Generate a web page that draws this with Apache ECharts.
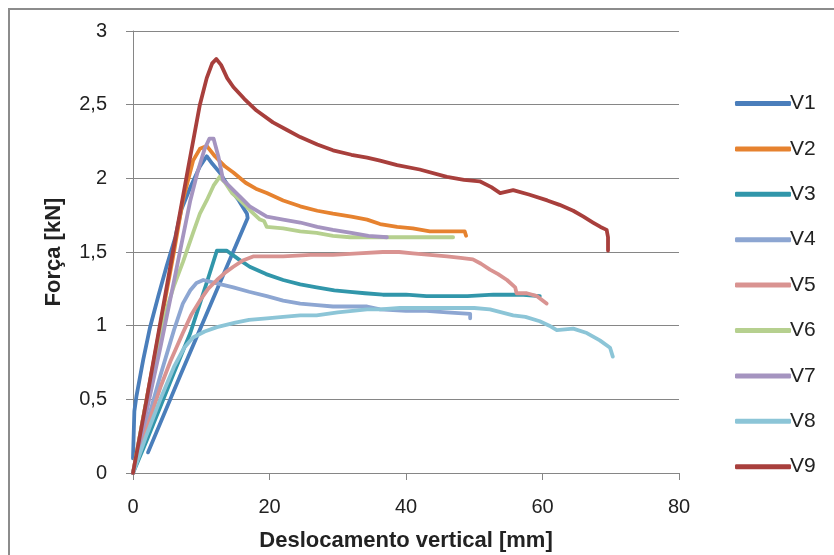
<!DOCTYPE html>
<html>
<head>
<meta charset="utf-8">
<script src="https://cdn.jsdelivr.net/npm/echarts@6/dist/echarts.min.js"></script>
<style>
  html, body { margin: 0; padding: 0; background: #fff; }
  #frame { position: absolute; left: 8px; top: 8px; width: 840px; height: 560px; border: 2px solid #8c8c8c; box-sizing: border-box; }
  #chart { position: absolute; left: 0; top: 0; width: 834px; height: 555px; }
</style>
</head>
<body>
<div id="frame"></div>
<div id="chart"></div>
<script>
// curvas força x deslocamento
const seriesNames = ['V1', 'V2', 'V3', 'V4', 'V5', 'V6', 'V7', 'V8', 'V9']
const colors = ['#4A7EBB', '#E6822F', '#3196AA', '#8DA6D2', '#D99391', '#B6D08F', '#A594C0', '#8CC5D7', '#A83F3C']

const v1 = [[0, 0.1], [0.2, 0.42], [0.5, 0.52], [1.5, 0.77], [2.5, 0.99], [3.7, 1.2], [4.9, 1.4], [6.2, 1.6], [7.1, 1.79], [8.5, 1.95], [9.8, 2.08], [10.8, 2.15], [11.6, 2.1], [12.7, 2.04], [14.2, 1.93], [15.5, 1.85], [16.7, 1.76], [16.8, 1.73], [11.7, 1.18], [7, 0.67], [2.2, 0.14]]
const v2 = [[0, 0], [2, 0.5], [4, 1.0], [6, 1.5], [7.3, 1.85], [8.8, 2.12], [9.8, 2.2], [10.8, 2.22], [12, 2.15], [13.5, 2.08], [14.7, 2.04], [16.5, 1.97], [18, 1.93], [19.6, 1.9], [22, 1.85], [24.5, 1.81], [27, 1.78], [29.3, 1.76], [32, 1.74], [34.3, 1.72], [36.2, 1.69], [38.7, 1.67], [41, 1.66], [43.5, 1.64], [46, 1.64], [48.6, 1.64], [48.8, 1.61]]
const v3 = [[0, 0], [2, 0.22], [4, 0.45], [6, 0.68], [8.4, 0.95], [9.8, 1.15], [11, 1.32], [12.3, 1.51], [13.7, 1.51], [15.5, 1.45], [17.1, 1.4], [19.5, 1.35], [22, 1.31], [24.5, 1.28], [26.9, 1.26], [29.5, 1.24], [31.8, 1.23], [34, 1.22], [36.6, 1.21], [40, 1.21], [43, 1.2], [46, 1.2], [49, 1.2], [52.8, 1.21], [56.7, 1.21], [59.6, 1.2]]
const v4 = [[0, 0], [2, 0.33], [4, 0.66], [6, 0.97], [7.3, 1.15], [8.4, 1.24], [9.3, 1.29], [10.3, 1.31], [12, 1.29], [14.7, 1.26], [17, 1.23], [19.6, 1.2], [22, 1.17], [24.5, 1.15], [27, 1.14], [29.3, 1.13], [32, 1.13], [34.3, 1.13], [36.2, 1.11], [40, 1.1], [43, 1.1], [46, 1.09], [49.4, 1.08], [49.4, 1.05]]
const v5 = [[0, 0], [2, 0.3], [4, 0.58], [5.5, 0.76], [7.3, 0.95], [8.5, 1.07], [9.8, 1.17], [11, 1.25], [12.3, 1.31], [13.5, 1.36], [14.7, 1.4], [16, 1.44], [17.6, 1.47], [20, 1.47], [22, 1.47], [26, 1.48], [29.3, 1.48], [33, 1.49], [36.6, 1.5], [39, 1.5], [41, 1.49], [43.5, 1.48], [46, 1.47], [48, 1.46], [49.8, 1.45], [51, 1.42], [52.3, 1.38], [53.5, 1.35], [54.8, 1.31], [56, 1.26], [56.2, 1.22], [57.7, 1.22], [59.2, 1.2], [60.6, 1.15]]
const v6 = [[0, 0], [1.5, 0.38], [3, 0.74], [4.9, 1.11], [6, 1.27], [7.3, 1.43], [8.8, 1.63], [9.8, 1.76], [10.8, 1.85], [11.8, 1.95], [12.7, 2.01], [13.5, 1.97], [14.5, 1.9], [15.7, 1.85], [17, 1.79], [18.6, 1.72], [19.2, 1.71], [19.6, 1.67], [22, 1.66], [24.5, 1.64], [26.9, 1.63], [29.3, 1.61], [31.8, 1.6], [35, 1.6], [38.7, 1.6], [42, 1.6], [46.9, 1.6]]
const v7 = [[0, 0], [2, 0.42], [4, 0.85], [6, 1.3], [7.3, 1.6], [8.4, 1.85], [9.5, 2.05], [10.5, 2.2], [11.2, 2.27], [11.8, 2.27], [12.5, 2.15], [13.2, 1.99], [14.7, 1.92], [16, 1.86], [17.1, 1.81], [18.5, 1.77], [19.6, 1.74], [22, 1.72], [24.5, 1.7], [27, 1.67], [29.3, 1.65], [32, 1.63], [34.5, 1.61], [37.2, 1.6]]
const v8 = [[0, 0], [2, 0.26], [4, 0.5], [6, 0.72], [7.5, 0.85], [8.8, 0.92], [10.5, 0.96], [12.3, 0.99], [15, 1.02], [17, 1.04], [19.6, 1.05], [22, 1.06], [24.5, 1.07], [26.9, 1.07], [30, 1.09], [34.3, 1.11], [36.2, 1.11], [39.1, 1.12], [41, 1.12], [44, 1.12], [47.5, 1.12], [50, 1.12], [52.3, 1.11], [54, 1.09], [55.7, 1.07], [57.5, 1.06], [59.6, 1.03], [61, 1.0], [62.1, 0.97], [64.5, 0.98], [66.5, 0.95], [68.4, 0.9], [69.9, 0.85], [70.3, 0.79]]
const v9 = [[0, 0], [2, 0.5], [4, 1.02], [6, 1.54], [8, 2.05], [9.8, 2.5], [10.8, 2.68], [11.6, 2.78], [12.2, 2.81], [12.9, 2.77], [13.8, 2.68], [14.7, 2.62], [16.3, 2.54], [18.1, 2.46], [20.5, 2.38], [22.5, 2.33], [24.5, 2.28], [27, 2.23], [29.3, 2.19], [32, 2.16], [34.3, 2.14], [36.2, 2.12], [38.7, 2.09], [42, 2.06], [46, 2.01], [48.5, 1.99], [50.8, 1.98], [52.5, 1.94], [53.8, 1.9], [55.7, 1.92], [58, 1.89], [60.7, 1.85], [62.5, 1.82], [64.5, 1.78], [66, 1.74], [67.4, 1.7], [68.5, 1.67], [69.4, 1.65], [69.6, 1.6], [69.6, 1.51]]

const allData = [v1, v2, v3, v4, v5, v6, v7, v8, v9]
const xTicks = [0, 20, 40, 60, 80]
const yTicks = [0, 0.5, 1, 1.5, 2, 2.5, 3]

const fontFamily = '"Liberation Sans", Arial, sans-serif'

const myChart = echarts.init(document.getElementById('chart'))
const option = {
  animation: false,
  color: colors,
  textStyle: { fontFamily: fontFamily },
  grid: { left: 133, right: 155, top: 31, bottom: 82, outerBoundsMode: 'none', containLabel: false },
  legend: {
    orient: 'vertical',
    left: 730,
    top: 88,
    itemWidth: 56,
    itemHeight: 5,
    itemGap: 24.4,
    icon: 'roundRect',
    textStyle: { fontSize: 21, color: '#222', fontFamily: fontFamily, padding: [0, 0, 0, -6] },
    data: seriesNames
  },
  xAxis: {
    type: 'value',
    min: xTicks[0],
    max: xTicks[xTicks.length - 1],
    interval: 20,
    name: 'Deslocamento vertical [mm]',
    nameLocation: 'middle',
    nameGap: 57,
    nameTextStyle: { fontSize: 22, fontWeight: 'bold', color: '#222' },
    axisLine: { lineStyle: { color: '#868686', width: 1 } },
    axisTick: { show: true, length: 7, inside: false, lineStyle: { color: '#868686' } },
    axisLabel: { fontSize: 20, color: '#222', margin: 24 },
    splitLine: { show: false }
  },
  yAxis: {
    type: 'value',
    min: yTicks[0],
    max: yTicks[yTicks.length - 1],
    interval: 0.5,
    name: 'Força [kN]',
    nameLocation: 'middle',
    nameGap: 68,
    nameTextStyle: { fontSize: 22, fontWeight: 'bold', color: '#222' },
    axisLine: { show: true, lineStyle: { color: '#868686', width: 1 } },
    axisTick: { show: true, length: 7, lineStyle: { color: '#868686' } },
    axisLabel: {
      fontSize: 20, color: '#222', margin: 26,
      formatter: v => String(v).replace('.', ',')
    },
    splitLine: { show: true, lineStyle: { color: '#868686', width: 1 } }
  },
  series: seriesNames.map((name, i) => ({
    name: name,
    type: 'line',
    data: allData[i],
    showSymbol: false,
    symbol: 'none',
    lineStyle: { width: 3.8, cap: 'round', join: 'round' }
  }))
}
option && myChart.setOption(option)
</script>
</body>
</html>
